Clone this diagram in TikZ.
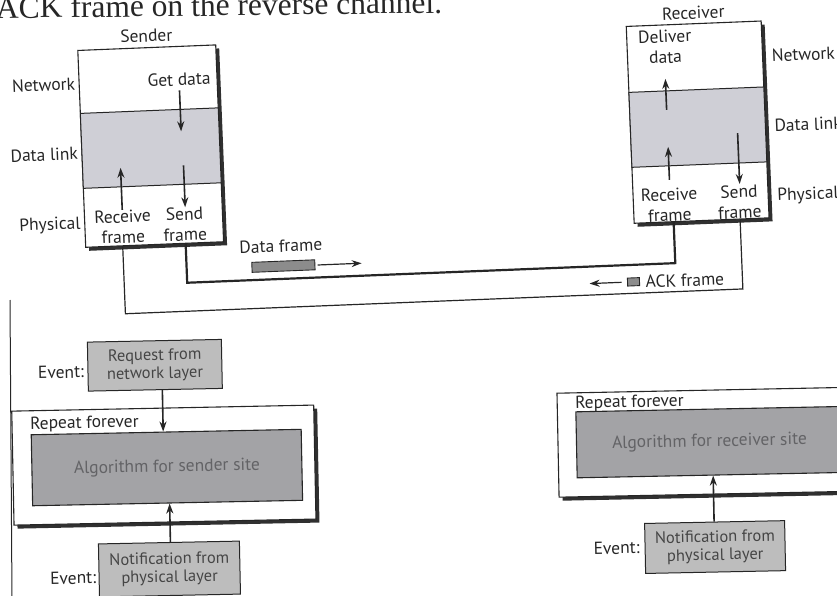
\documentclass[tikz,border=0pt]{standalone}
\usepackage{fontspec}
\setmainfont{PT Sans}
\newfontfamily\captionserif{Liberation Serif}
\usetikzlibrary{calc,arrows.meta,shadows}
\definecolor{ink}{HTML}{262626}
\definecolor{shade}{HTML}{303030}
\definecolor{bandfill}{HTML}{CFCFD6}
\definecolor{algfill}{HTML}{A3A3A6}
\definecolor{algtext}{HTML}{636366}
\definecolor{evfill}{HTML}{BDBDBD}
\definecolor{evtext}{HTML}{454545}
\definecolor{pktfill}{HTML}{8C8C8C}
\tikzset{
  layerbox/.style={draw=ink, line width=1.1pt, fill=white,
    drop shadow={shadow xshift=3.5pt, shadow yshift=-3.5pt, opacity=1, fill=shade}},
  band/.style={draw=ink, line width=1pt, fill=bandfill},
  algbox/.style={draw=ink, line width=1.1pt, fill=algfill, text=algtext},
  evbox/.style={draw=ink, line width=1pt, fill=evfill, text=evtext, align=center,
    font=\fontsize{16.5}{18}\selectfont},
  twoline/.style={align=center},
  arr/.style={draw=ink, line width=1.6pt, -{Stealth[length=10pt,width=7pt]}},
  dataline/.style={draw=ink, line width=2.2pt},
  ackline/.style={draw=ink, line width=1.2pt},
  pkt/.style={draw=ink, line width=0.9pt, fill=pktfill},
}
\begin{document}
\begin{tikzpicture}[x=1pt, y=-1pt,
  font=\fontsize{17.5}{20.5}\selectfont,
  every node/.style={text=ink, inner sep=0pt}]
\useasboundingbox (0,0) rectangle (837,596);
\clip (0,0) rectangle (837,596);

% running text above the figure
\node[anchor=base west, rotate=0.7, font=\captionserif\fontsize{31.5}{31.5}\selectfont]
  (caption) at (-4,18.5) {ACK frame on the reverse channel.};

% ---------- sender / receiver layer stacks and the channel ----------
\begin{scope}[rotate around={2.3:(418,298)}, transform shape]
  % sender stack
  \node[layerbox, minimum width=138pt, minimum height=197pt] (snd) at (157,135.5) {};
  \node[band, minimum width=138pt, minimum height=75pt] (sband) at (157,137.5) {};
  \node (sname) at (157,25) {Sender};
  \node[anchor=east] (snet) at (84,70) {Network};
  \node[anchor=east] (sdl) at (84,140) {Data link};
  \node[anchor=east] (sphy) at (84,211) {Physical};
  \node (sget) at (188,70) {Get data};
  \node[twoline] (srecv) at (126,215) {Receive\\frame};
  \node[twoline] (ssend) at (188,215) {Send\\frame};
  \coordinate (sgetTail) at (188,81);
  \coordinate (sgetTip) at (188,122);
  \coordinate (ssendTail) at (189,156);
  \coordinate (ssendTip) at (189,198);
  \coordinate (srecvTail) at (126,198);
  \coordinate (srecvTip) at (126,156);
  \draw[arr] (sgetTail) -- (sgetTip);
  \draw[arr] (ssendTail) -- (ssendTip);
  \draw[arr] (srecvTail) -- (srecvTip);

  % receiver stack
  \node[layerbox, minimum width=135pt, minimum height=197pt] (rcv) at (704.5,133.5) {};
  \node[band, minimum width=135pt, minimum height=75pt] (rband) at (704.5,138.5) {};
  \node (rname) at (704.5,24) {Receiver};
  \node[anchor=west] (rnet) at (781,70) {Network};
  \node[anchor=west] (rdl) at (781,140) {Data link};
  \node[anchor=west] (rphy) at (781,211) {Physical};
  \node[twoline] (rdeliver) at (675,57) {Deliver\\data};
  \node[twoline] (rrecv) at (673,215) {Receive\\frame};
  \node[twoline] (rsend) at (743,215) {Send\\frame};
  \coordinate (rdelTail) at (674,120);
  \coordinate (rdelTip) at (674,89);
  \coordinate (rrecvTail) at (674,190);
  \coordinate (rrecvTip) at (674,157);
  \coordinate (rsendTail) at (744,146);
  \coordinate (rsendTip) at (744,197);
  \draw[arr] (rdelTail) -- (rdelTip);
  \draw[arr] (rrecvTail) -- (rrecvTip);
  \draw[arr] (rsendTail) -- (rsendTip);

  % forward channel (data frames)
  \coordinate (datL) at (188,273.5);
  \coordinate (datR) at (676.5,273.5);
  \draw[dataline] ($(snd.south west)!(datL)!(snd.south east)$) -- (datL) -- (datR)
    -- ($(rcv.south west)!(datR)!(rcv.south east)$);
  % reverse channel (ACK frames)
  \coordinate (ackL) at (125,302);
  \coordinate (ackR) at (743,302);
  \draw[ackline] ($(snd.south west)!(ackL)!(snd.south east)$) -- (ackL) -- (ackR)
    -- ($(rcv.south west)!(ackR)!(rcv.south east)$);

  % frames in transit
  \node (dlabel) at (283,240.5) {Data frame};
  \node[pkt, minimum width=63pt, minimum height=10pt] (dpkt) at (284.8,260.7) {};
  \coordinate (dmvTail) at (319,261);
  \coordinate (dmvTip) at (363,261);
  \draw[arr, line width=1.2pt] (dmvTail) -- (dmvTip);
  \node[pkt, minimum width=12pt, minimum height=8pt] (apkt) at (634,290.5) {};
  \node[anchor=west] (alabel) at (646,291) {ACK frame};
  \coordinate (amvTail) at (622,290.5);
  \coordinate (amvTip) at (590,290.5);
  \draw[arr, line width=1.2pt] (amvTail) -- (amvTip);
\end{scope}

% frame rule at the left of the lower half
\draw[ink, line width=1pt] (10,300) -- (12,600);

% ---------- event-driven loops ----------
\begin{scope}[rotate around={1.15:(418,470)}, transform shape]
  % sender site
  \node[evbox, minimum width=134pt, minimum height=49pt] (sreq) at (157,360) {Request from\\network layer};
  \node (sev1) at (63,365) {Event:};
  \node[layerbox, minimum width=302pt, minimum height=114pt] (sloop) at (164,460) {};
  \node[anchor=west] (srep) at (31,417) {Repeat forever};
  \node[algbox, minimum width=270pt, minimum height=71pt] (salg) at (167,462.5) {Algorithm for sender site};
  \node[evbox, minimum width=141pt, minimum height=53pt] (snot) at (167.5,564) {Notification from\\physical layer};
  \node (sev2) at (71,571) {Event:};
  \draw[arr] ($(sreq.south west)!(164,400)!(sreq.south east)$)
    -- ($(salg.north west)!(164,400)!(salg.north east)$);
  \draw[arr] ($(snot.north west)!(169,520)!(snot.north east)$)
    -- ($(salg.south west)!(169,520)!(salg.south east)$);

  % receiver site
  \node[layerbox, minimum width=303.5pt, minimum height=104pt] (rloop) at (710.25,448) {};
  \node[anchor=west] (rrep) at (576.4,407.2) {Repeat forever};
  \node[algbox, minimum width=266pt, minimum height=66pt] (ralg) at (710,448) {Algorithm for receiver site};
  \node[evbox, minimum width=140pt, minimum height=50pt] (rnot) at (713.5,553) {Notification from\\physical layer};
  \node (rev) at (615,552) {Event:};
  \draw[arr] ($(rnot.north west)!(713,520)!(rnot.north east)$)
    -- ($(ralg.south west)!(713,520)!(ralg.south east)$);
\end{scope}
\end{tikzpicture}
\end{document}
